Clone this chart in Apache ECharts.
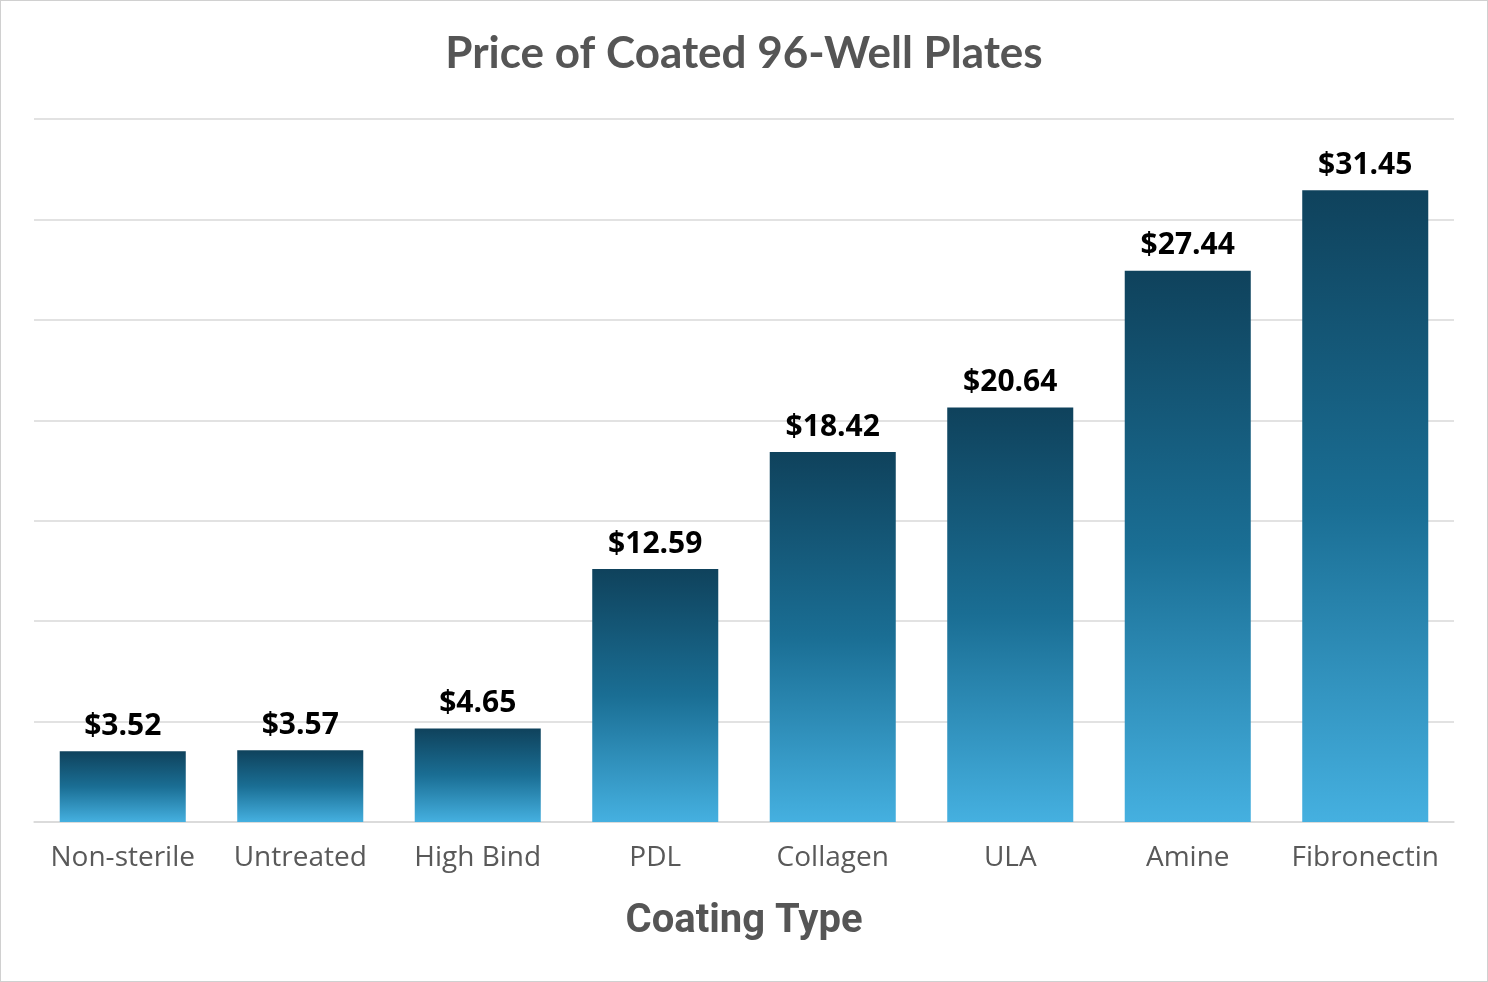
<!DOCTYPE html>
<html><head><meta charset="utf-8">
<script src="https://cdn.jsdelivr.net/npm/echarts@6/dist/echarts.min.js"></script>
<style>html,body{margin:0;padding:0;background:#fff}#c{width:1486px;height:980px;border:1px solid #d0d0d0}</style>
</head><body><div id="c"></div>
<script>
const categories = ['Non-sterile','Untreated','High Bind','PDL','Collagen','ULA','Amine','Fibronectin'];
const prices = [3.52,3.57,4.65,12.59,18.42,20.64,27.44,31.45];
const chart = echarts.init(document.getElementById('c'));
chart.setOption({
  animation:false,
  title:{text:'Price of Coated 96-Well Plates',left:'center',top:26,textStyle:{fontFamily:'Lato',fontWeight:'bold',fontSize:44,color:'#555'}},
  grid:{left:33,right:33,top:118,bottom:159},
  xAxis:{type:'category',data:categories,
    axisLine:{lineStyle:{color:'#d9d9d9',width:1.5}},axisTick:{show:false},
    axisLabel:{fontFamily:'Open Sans',fontSize:28,color:'#595959',margin:22,interval:0},
    name:'Coating Type',nameLocation:'middle',nameGap:80,
    nameTextStyle:{fontFamily:'Roboto',fontWeight:'bold',fontSize:40,color:'#555',fontStretch:'condensed'}},
  yAxis:{type:'value',min:0,max:35,interval:5,axisLabel:{show:false},
    splitLine:{lineStyle:{color:'#d9d9d9',width:1.5}}},
  series:[{type:'bar',data:prices,barCategoryGap:'29%',
    itemStyle:{color:new echarts.graphic.LinearGradient(0,0,0,1,[{offset:0,color:'#0f425c'},{offset:0.5,color:'#1a6e94'},{offset:1,color:'#45b0e0'}])},
    label:{show:true,position:'top',distance:10,formatter:p=>'$'+p.value.toFixed(2),
      fontFamily:'Open Sans',fontWeight:'bold',fontSize:30,color:'#000'}}]
});
</script></body></html>
